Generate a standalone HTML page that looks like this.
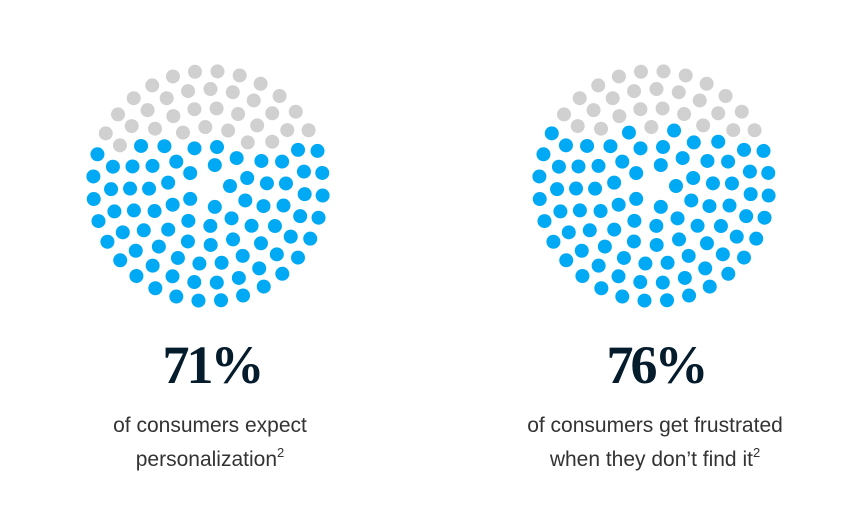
<!DOCTYPE html>
<html><head><meta charset="utf-8"><style>
body{margin:0;background:#fff;width:850px;height:527px;overflow:hidden;font-family:"Liberation Sans",sans-serif}
svg{position:absolute;left:0;top:0}
</style></head><body>
<svg width="850" height="527">
<g id="g"></g>
<text x="212" y="383" text-anchor="middle" font-family="Liberation Serif,serif" font-weight="bold" font-size="54" letter-spacing="-3" fill="#051c2c">71%</text>
<text x="210" y="432" text-anchor="middle" font-size="21" fill="#333">of consumers expect</text>
<text x="210" y="466" text-anchor="middle" font-size="21" fill="#333">personalization<tspan font-size="13" dy="-9">2</tspan></text>
<text x="656" y="383" text-anchor="middle" font-family="Liberation Serif,serif" font-weight="bold" font-size="54" letter-spacing="-3" fill="#051c2c">76%</text>
<text x="655" y="432" text-anchor="middle" font-size="21" fill="#333">of consumers get frustrated</text>
<text x="655" y="466" text-anchor="middle" font-size="21" fill="#333">when they don’t find it<tspan font-size="13" dy="-9">2</tspan></text>
</svg>
<script>
const categories=["expect-personalization","frustrated-without-it"];
const percentValues=[71,76];
const g=document.getElementById('g');
const centers=[[208,186],[654,186]];
const rings=[[22,5],[40,11],[59,16],[78,22],[97,27],[115,32]];
percentValues.forEach((p,ci)=>{
  const [cx,cy]=centers[ci];
  const dots=[];
  rings.forEach(([r,n],ri)=>{
    for(let i=0;i<n;i++){const a=2*Math.PI*i/n+ri*0.37;dots.push([cx+r*Math.cos(a),cy+r*Math.sin(a)]);}
  });
  const sorted=dots.slice().sort((a,b)=>b[1]-a[1]);
  const nBlue=Math.round(dots.length*p/100);
  sorted.forEach((d,i)=>{
    const c=document.createElementNS('http://www.w3.org/2000/svg','circle');
    c.setAttribute('cx',d[0]);c.setAttribute('cy',d[1]);c.setAttribute('r',7);
    c.setAttribute('fill',i<nBlue?'#00a9f4':'#d0d0d0');
    
    
    g.appendChild(c);
  });
});
</script>
</body></html>
